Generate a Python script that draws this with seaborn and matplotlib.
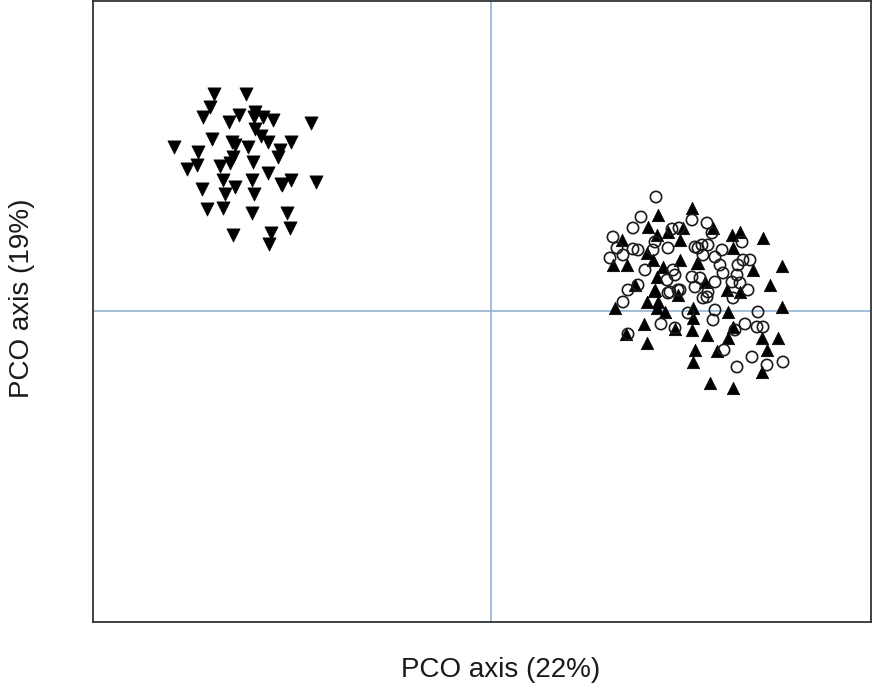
import numpy as np
import pandas as pd
import matplotlib
matplotlib.use("Agg")
import matplotlib.pyplot as plt
import seaborn as sns

# Values (PCO scores, arbitrary units; origin at the cross)
down_x = [214, 246, 210, 203, 239, 229, 255, 254, 263, 273, 311, 255, 261, 268, 291, 212,
          232, 235, 248, 174, 198, 280, 278, 233, 230, 220, 253, 197, 187, 268, 252, 223,
          291, 282, 316, 235, 202, 225, 254, 207, 223, 252, 287, 290, 233, 271, 269, 281]
down_y = [94, 94, 107, 117, 115, 122, 112, 117, 117, 120, 123, 129, 136, 142, 142, 139,
          142, 145, 147, 147, 152, 150, 157, 157, 163, 166, 162, 165, 169, 173, 180, 180,
          180, 185, 182, 187, 189, 194, 194, 209, 208, 213, 213, 228, 235, 233, 244, 184]

up_x = [692, 658, 648, 657, 668, 683, 680, 622, 647, 653, 613, 627, 663, 680, 697, 657,
        635, 655, 713, 732, 740, 763, 733, 753, 782, 698, 705, 770, 727, 740,
        615, 654, 647, 658, 657, 665, 678, 693, 693, 692, 644, 675, 626, 647, 695, 693,
        782, 728, 733, 707, 728, 762, 778, 767, 717, 762, 710, 733]
up_y = [208, 215, 227, 235, 232, 228, 240, 240, 253, 260, 265, 265, 267, 260, 263, 277,
        285, 290, 228, 235, 232, 238, 248, 270, 266, 263, 282, 285, 290, 292,
        308, 291, 302, 302, 308, 312, 295, 308, 318, 330, 324, 329, 334, 343, 350, 362,
        307, 312, 327, 335, 338, 338, 338, 350, 351, 372, 383, 388]

circ_x = [656, 641, 633, 692, 672, 679, 613, 617, 610, 623, 633, 638, 655, 653, 668, 695,
          702, 645, 673, 675, 667, 692, 695, 628, 638, 670, 678,
          707, 712, 742, 708, 722, 698, 703, 715, 720, 738, 743, 750, 723, 737, 732, 740,
          715, 700, 708,
          623, 668, 680, 703, 661, 675, 688, 628,
          707, 748, 733, 715, 758, 713, 735, 745, 757, 763, 724, 752, 737, 767, 783]
circ_y = [197, 217, 228, 220, 229, 228, 237, 248, 258, 255, 249, 250, 242, 250, 248, 247,
          245, 270, 270, 275, 280, 277, 287, 290, 285, 292, 290,
          223, 233, 242, 245, 250, 248, 255, 257, 265, 265, 260, 260, 273, 275, 282, 283,
          282, 278, 292,
          302, 293, 290, 298, 324, 328, 313, 334,
          297, 290, 298, 310, 312, 320, 330, 324, 327, 327, 350, 357, 367, 365, 362]

X0, Y0 = 491, 311  # crossing point of the reference lines


def frame(xs, ys, group):
    return pd.DataFrame({"PC1": np.array(xs) - X0, "PC2": Y0 - np.array(ys), "group": group})


df_down = frame(down_x, down_y, "A")
df_up = frame(up_x, up_y, "B")
df_circ = frame(circ_x, circ_y, "C")

sns.set_style("white")
plt.rcParams["font.family"] = ["Liberation Sans", "DejaVu Sans"]

fig = plt.figure(figsize=(8.72, 6.93), dpi=100)
ax = fig.add_axes([93 / 872, 1 - 622 / 693, (871 - 93) / 872, (622 - 1) / 693])

ax.axvline(0, color="#9bb9d6", lw=1.3, zorder=0)
ax.axhline(0, color="#9bb9d6", lw=1.3, zorder=0)

sns.scatterplot(data=df_down, x="PC1", y="PC2", marker="v", s=90, color="black",
                edgecolor="black", linewidth=0.5, ax=ax, legend=False, zorder=3)
sns.scatterplot(data=df_up, x="PC1", y="PC2", marker="^", s=80, color="black",
                edgecolor="black", linewidth=0.5, ax=ax, legend=False, zorder=3)
sns.scatterplot(data=df_circ, x="PC1", y="PC2", marker="o", s=66, facecolor="none",
                edgecolor="#1a1a1a", linewidth=1.2, ax=ax, legend=False, zorder=4)

ax.set_xlim(93 - X0, 871 - X0)
ax.set_ylim(Y0 - 622, Y0 - 1)
ax.set_xticks([])
ax.set_yticks([])
ax.set_xlabel("")
ax.set_ylabel("")
for sp in ax.spines.values():
    sp.set_color("#333333")
    sp.set_linewidth(1.3)

fig.text(501 / 872, 1 - 670 / 693, "PCO axis (22%)", ha="center", va="center",
         fontsize=20, color="#1a1a1a")
fig.text(22 / 872, 1 - 298 / 693, "PCO axis (19%)", ha="center", va="center",
         rotation=90, fontsize=20, color="#1a1a1a")

fig.savefig("out.png", dpi=100)
